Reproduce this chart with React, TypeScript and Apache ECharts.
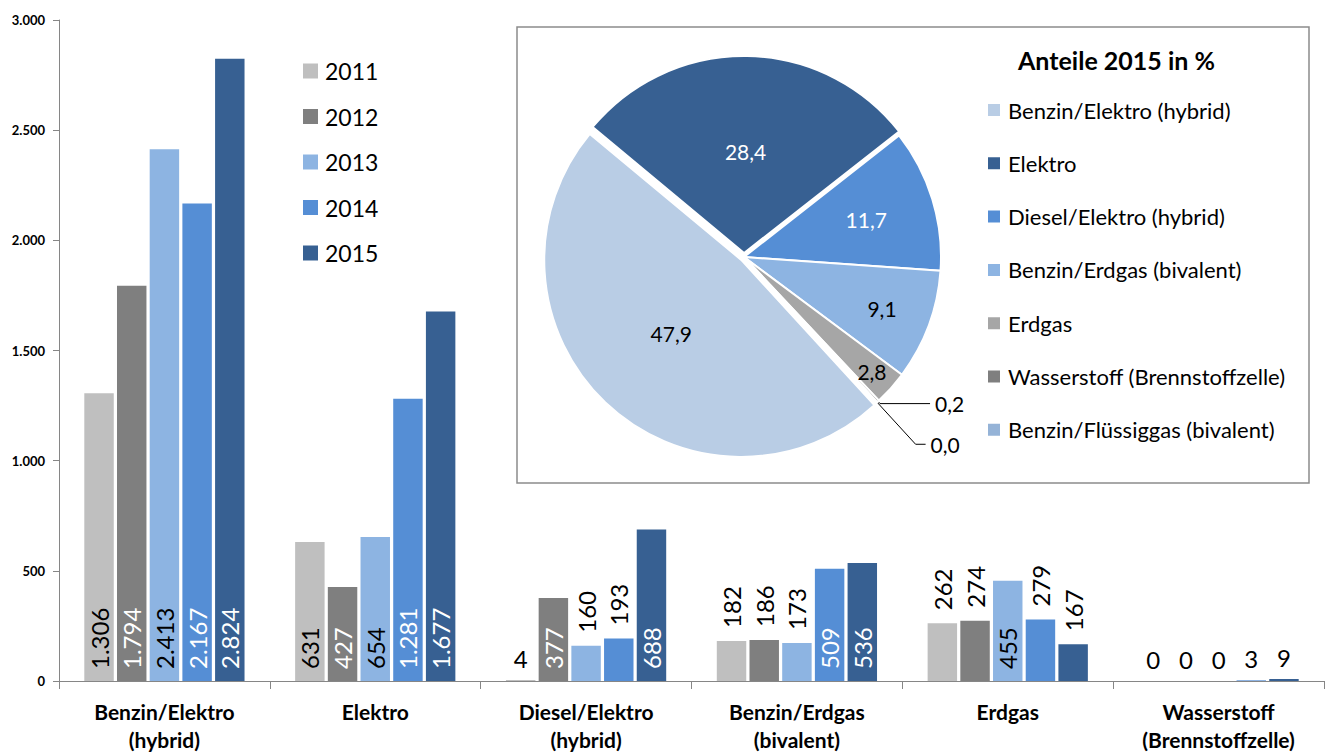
import React, { useEffect, useRef } from 'react';
import * as echarts from 'echarts';

// ---------- data ----------
const categories = [
  'Benzin/Elektro\n(hybrid)',
  'Elektro',
  'Diesel/Elektro\n(hybrid)',
  'Benzin/Erdgas\n(bivalent)',
  'Erdgas',
  'Wasserstoff\n(Brennstoffzelle)',
];
const years = ['2011', '2012', '2013', '2014', '2015'];
const v2011 = [1306, 631, 4, 182, 262, 0];
const v2012 = [1794, 427, 377, 186, 274, 0];
const v2013 = [2413, 654, 160, 173, 455, 0];
const v2014 = [2167, 1281, 193, 509, 279, 3];
const v2015 = [2824, 1677, 688, 536, 167, 9];
const yTicks = [0, 500, 1000, 1500, 2000, 2500, 3000];

const pieTitle = 'Anteile 2015 in %';
const pieNames = [
  'Benzin/Elektro (hybrid)',
  'Elektro',
  'Diesel/Elektro (hybrid)',
  'Benzin/Erdgas (bivalent)',
  'Erdgas',
  'Wasserstoff (Brennstoffzelle)',
  'Benzin/Flüssiggas (bivalent)',
];
const pieShares = [47.9, 28.4, 11.7, 9.1, 2.8, 0.2, 0.0];

// ---------- styles ----------
const FONT = 'Lato';
const barColors = ['#BFBFBF', '#7F7F7F', '#8DB4E2', '#558ED5', '#376092'];
const insideLabelColors = ['#000000', '#ffffff', '#000000', '#ffffff', '#ffffff'];
const pieColors = ['#B9CDE5', '#376092', '#558ED5', '#8DB4E2', '#A6A6A6', '#7F7F7F', '#95B3D7'];
const pieLabelColors = ['#000', '#fff', '#fff', '#000', '#000', '#000', '#000'];
const pieExploded = [true, true, false, false, false, false, false];
const pieLabelOutside = [false, false, false, false, false, true, true];
const pieLineLen = [0, 0, 0, 0, 0, 3, 57];
const pieLineLen2 = [0, 0, 0, 0, 0, 50, 10];
const pieLabelRadiusScale = [1, 1, 1.26, 1.45, 1.69, 1, 1];
const pieCenter = [744, 257];
const pieRadius = 197;

const de = (v: number) => String(v).replace(/\B(?=(\d{3})+(?!\d))/g, '.');

function barItem(v: number, si: number) {
  if (v > 300) {
    return {
      value: v,
      label: {
        position: 'insideBottom', distance: 12, rotate: 90,
        align: 'left', verticalAlign: 'middle', color: insideLabelColors[si],
      },
    };
  }
  if (v >= 10) {
    return {
      value: v,
      label: {
        position: 'top', distance: 13, rotate: 90,
        align: 'left', verticalAlign: 'middle', color: '#000',
      },
    };
  }
  return {
    value: v,
    label: { position: 'top', distance: 10, rotate: 0, color: '#000' },
  };
}

export default function App() {
  const ref = useRef<HTMLDivElement>(null);

  useEffect(() => {
    document.body.style.margin = '0';
    if (!ref.current) return;
    const chart = echarts.init(ref.current, null, { renderer: 'svg' });
    const allSeries = [v2011, v2012, v2013, v2014, v2015];

    const option: any = {
      animation: false,
      backgroundColor: '#ffffff',
      textStyle: { fontFamily: FONT },
      title: {
        text: pieTitle,
        left: 1018,
        top: 47,
        padding: 0,
        textStyle: { fontFamily: FONT, fontSize: 25, fontWeight: 'bold', color: '#000' },
      },
      legend: [
        {
          data: years,
          orient: 'vertical',
          left: 303,
          top: 59,
          padding: 0,
          itemWidth: 15,
          itemHeight: 15,
          itemGap: 21.5,
          icon: 'rect',
          selectedMode: false,
          textStyle: { fontFamily: FONT, fontSize: 23, lineHeight: 24, color: '#000', padding: [0, 0, 0, 2] },
        },
        {
          data: pieNames,
          orient: 'vertical',
          left: 986,
          top: 99,
          padding: 0,
          itemWidth: 14,
          itemHeight: 14,
          itemGap: 31.3,
          icon: 'rect',
          selectedMode: false,
          textStyle: { fontFamily: FONT, fontSize: 22, lineHeight: 22, color: '#000', padding: [0, 0, 0, 2] },
        },
      ],
      graphic: [
        {
          type: 'rect',
          z: 0,
          shape: { x: 517, y: 27, width: 792, height: 456 },
          style: { fill: '#ffffff', stroke: '#8C8C8C', lineWidth: 1.5 },
        },
      ],
      grid: { left: 59, right: 4, top: 20, bottom: 69, containLabel: false },
      xAxis: {
        type: 'category',
        data: categories,
        axisLine: { show: true, lineStyle: { color: '#868686', width: 1 } },
        axisTick: { show: true, length: 8, lineStyle: { color: '#868686' } },
        axisLabel: {
          interval: 0,
          margin: 16,
          fontFamily: FONT,
          fontSize: 21,
          fontWeight: 'bold',
          lineHeight: 28,
          color: '#000',
        },
      },
      yAxis: {
        type: 'value',
        min: yTicks[0],
        max: yTicks[yTicks.length - 1],
        interval: yTicks[1] - yTicks[0],
        splitLine: { show: false },
        axisLine: { show: true, lineStyle: { color: '#868686', width: 1 } },
        axisTick: { show: true, length: 6, lineStyle: { color: '#868686' } },
        axisLabel: {
          margin: 14,
          fontFamily: FONT,
          fontSize: 13,
          fontWeight: 'bold',
          color: '#000',
          formatter: (v: number) => de(v),
        },
      },
      series: [
        ...years.map((y, si) => ({
          name: y,
          type: 'bar',
          barGap: '11%',
          barCategoryGap: '24%',
          itemStyle: { color: barColors[si] },
          label: {
            show: true,
            fontFamily: FONT,
            fontSize: 24,
            formatter: (p: any) => de(p.value),
          },
          data: allSeries[si].map((v) => barItem(v, si)),
        })),
        {
          name: pieTitle,
          type: 'pie',
          z: 5,
          center: pieCenter,
          radius: pieRadius,
          startAngle: -47.5,
          clockwise: true,
          avoidLabelOverlap: false,
          selectedMode: 'multiple',
          selectedOffset: 4,
          itemStyle: { borderColor: '#ffffff', borderWidth: 2 },
          select: { itemStyle: { borderColor: '#ffffff', borderWidth: 2 } },
          emphasis: { disabled: true },
          label: {
            show: true,
            position: 'inside',
            fontFamily: FONT,
            fontSize: 21,
            formatter: (p: any) => p.value.toFixed(1).replace('.', ','),
          },
          labelLine: { show: true, lineStyle: { color: '#000', width: 1 } },
          labelLayout: (p: any) => {
            const f = pieLabelRadiusScale[p.dataIndex];
            if (!f || f === 1) return {};
            const r = p.labelRect;
            const lx = r.x + r.width / 2;
            const ly = r.y + r.height / 2;
            return { dx: (lx - pieCenter[0]) * (f - 1), dy: (ly - pieCenter[1]) * (f - 1) };
          },
          data: pieNames.map((n, i) => ({
            name: n,
            value: pieShares[i],
            selected: pieExploded[i],
            itemStyle: { color: pieColors[i] },
            label: {
              color: pieLabelColors[i],
              position: pieLabelOutside[i] ? 'outside' : 'inside',
              padding: pieLabelOutside[i] ? [0, 0, 12, 0] : 0,
            },
            labelLine: pieLabelOutside[i]
              ? { show: true, length: pieLineLen[i], length2: pieLineLen2[i] }
              : { show: false },
          })),
        },
      ],
    };

    chart.setOption(option);
    return () => chart.dispose();
  }, []);

  return <div ref={ref} style={{ width: 1328, height: 753 }} />;
}
